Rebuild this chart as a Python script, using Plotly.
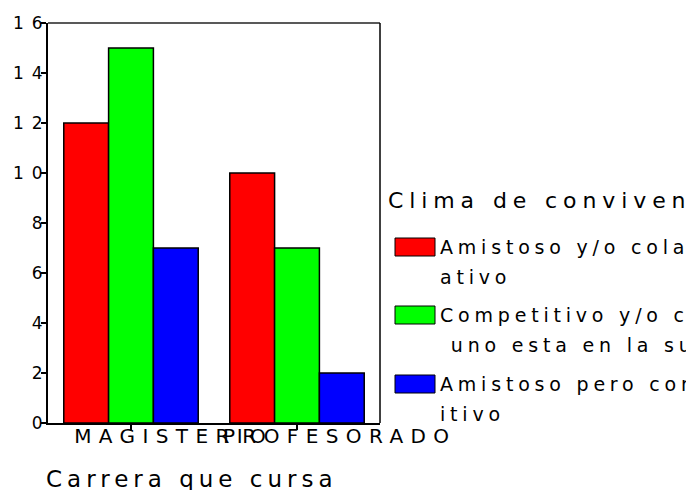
import plotly.graph_objects as go

# Data
carreras = ["MAGISTERIO", "PROFESORADO"]
climas = [
    "Amistoso y/o colaborativo",
    "Competitivo y/o cada uno esta en la suya",
    "Amistoso pero competitivo",
]
recuentos = {
    "Amistoso y/o colaborativo": [12, 10],
    "Competitivo y/o cada uno esta en la suya": [15, 7],
    "Amistoso pero competitivo": [7, 2],
}
colores = ["#ff0000", "#00ff00", "#0000ff"]
y_ticks = [0, 2, 4, 6, 8, 10, 12, 14, 16]
titulo_x = "Carrera que cursa"
titulo_leyenda = "Clima de convivencia"

FONT = "DejaVu Sans, sans-serif"
W, H = 686, 490
L, R, T, B = 48, 306, 23, 67
PW, PH = W - L - R, H - T - B


def spaced(text, ls):
    # letter spacing between glyphs, none after the last one
    if len(text) < 2:
        return text
    return f'<span style="letter-spacing:{ls}px">{text[:-1]}</span>{text[-1]}'


def px(x):
    return (x - L) / PW


def py(y):
    return (H - B - y) / PH


fig = go.Figure()
for name, color in zip(climas, colores):
    fig.add_trace(go.Bar(
        x=carreras,
        y=recuentos[name],
        name=name,
        marker=dict(color=color, line=dict(color="#000000", width=1.5)),
        showlegend=False,
    ))

# Frame: top and right edges
shapes = [
    dict(type="line", xref="paper", yref="paper", x0=0, x1=1, y0=1, y1=1,
         line=dict(color="#222222", width=1.5)),
    dict(type="line", xref="paper", yref="paper", x0=1, x1=1, y0=0, y1=1,
         line=dict(color="#000000", width=1.5)),
]

annotations = [
    dict(text=spaced(titulo_x, 5), xref="paper", yref="paper",
         x=px(44), y=py(478.5), xanchor="left", yanchor="middle",
         showarrow=False, font=dict(family=FONT, size=23, color="#000000")),
    dict(text=spaced(titulo_leyenda, 5.9), xref="paper", yref="paper",
         x=px(386), y=py(200), xanchor="left", yanchor="middle",
         showarrow=False, font=dict(family=FONT, size=22, color="#000000")),
]

# Legend entries (labels wrap at 20 characters)
WRAP = 20
legend_rows = [247, 315, 384]
for cy, name, color in zip(legend_rows, climas, colores):
    shapes.append(dict(type="rect", xref="paper", yref="paper",
                       x0=px(395), x1=px(435), y0=py(cy - 9), y1=py(cy + 9),
                       fillcolor=color, line=dict(color="#000000", width=1)))
    lines = [name[k:k + WRAP] for k in range(0, len(name), WRAP)]
    for j, line in enumerate(lines):
        annotations.append(dict(
            text=spaced(line.replace(" ", "\u00a0"), 4.8), xref="paper", yref="paper",
            x=px(438), y=py(cy + j * 29.5), xanchor="left", yanchor="middle",
            showarrow=False, font=dict(family=FONT, size=19, color="#000000")))

fig.update_layout(
    width=W, height=H,
    margin=dict(l=L, r=R, t=T, b=B, autoexpand=False),
    paper_bgcolor="#ffffff", plot_bgcolor="#ffffff",
    barmode="group", bargap=0.19, bargroupgap=0,
    shapes=shapes, annotations=annotations,
    font=dict(family=FONT, color="#000000"),
)
fig.update_xaxes(
    type="category",
    tickvals=carreras,
    ticktext=[spaced(c, 7.4) for c in carreras],
    tickfont=dict(family=FONT, size=20, color="#000000"),
    tickangle=0,
    ticks="outside", ticklen=5, tickwidth=1.5, tickcolor="#000000",
    ticklabelshift=39, ticklabelstandoff=-11,
    showline=True, linecolor="#000000", linewidth=2,
    showgrid=False, zeroline=False,
)
fig.update_yaxes(
    range=[0, 16],
    tickvals=y_ticks,
    ticktext=[spaced(str(v), 8) for v in y_ticks],
    tickfont=dict(family=FONT, size=17, color="#000000"),
    ticks="outside", ticklen=5, tickwidth=1.5, tickcolor="#000000",
    ticklabelstandoff=-5,
    showline=True, linecolor="#000000", linewidth=2,
    showgrid=False, zeroline=False,
)

fig.write_html("out.html")
